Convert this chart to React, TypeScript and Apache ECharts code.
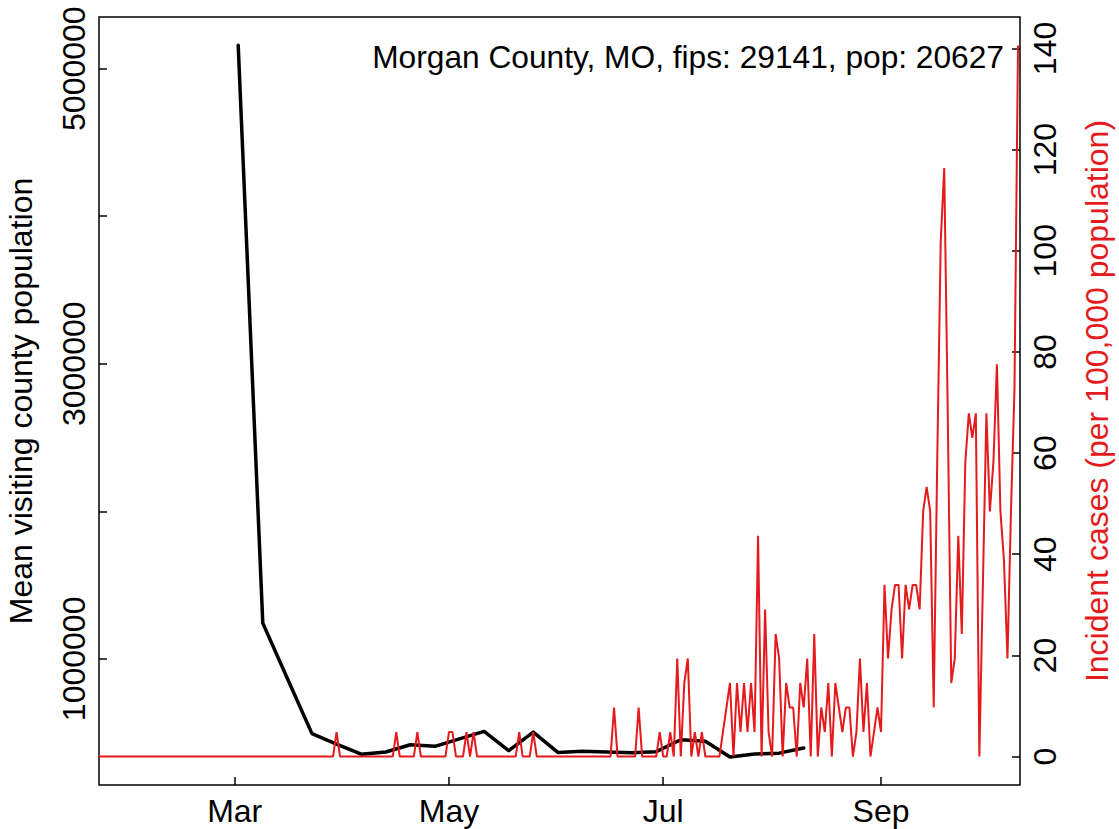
import React, { useEffect, useRef } from "react";
import * as echarts from "echarts";

const TITLE = "Morgan County, MO, fips: 29141, pop: 20627";
const LEFT_NAME = "Mean visiting county population";
const RIGHT_NAME = "Incident cases (per 100,000 population)";

// x axis month ticks
const monthTickDates = ["2020-03-01", "2020-05-01", "2020-07-01", "2020-09-01"];
const monthTickLabels = ["Mar", "May", "Jul", "Sep"];

// left axis ticks
const leftTickValues = [1000000, 2000000, 3000000, 4000000, 5000000];
const leftLabelValues = [1000000, 3000000, 5000000];
// right axis ticks
const rightTickValues = [0, 20, 40, 60, 80, 100, 120, 140];

// weekly mean visiting county population (black line)
const visitDates = [
  "2020-03-02", "2020-03-09", "2020-03-16", "2020-03-23", "2020-03-30",
  "2020-04-06", "2020-04-13", "2020-04-20", "2020-04-27", "2020-05-04",
  "2020-05-11", "2020-05-18", "2020-05-25", "2020-06-01", "2020-06-08",
  "2020-06-15", "2020-06-22", "2020-06-29", "2020-07-06", "2020-07-13",
  "2020-07-20", "2020-07-27", "2020-08-03", "2020-08-10",
];
const visitPopulation = [
  5158000, 1242000, 867000, 493000, 422000,
  354000, 369000, 418000, 407000, 458000,
  508000, 378000, 504000, 366000, 373000,
  368000, 364000, 371000, 452000, 441000,
  335000, 355000, 361000, 396000,
];

// daily incident cases per 100,000 (red line), starting 2020-01-22
const caseStartDate = "2020-01-22";
const casesJan = [0, 0, 0, 0, 0, 0, 0, 0, 0, 0];
const casesFeb = [
  0, 0, 0, 0, 0, 0, 0, 0, 0, 0,
  0, 0, 0, 0, 0, 0, 0, 0, 0, 0,
  0, 0, 0, 0, 0, 0, 0, 0, 0,
];
const casesMar = [
  0, 0, 0, 0, 0, 0, 0, 0, 0, 0,
  0, 0, 0, 0, 0, 0, 0, 0, 0, 0,
  0, 0, 0, 0, 0, 0, 0, 0, 0, 4.85,
  0,
];
const casesApr = [
  0, 0, 0, 0, 0, 0, 0, 0, 0, 0,
  0, 0, 0, 0, 0, 4.85, 0, 0, 0, 0,
  0, 4.85, 0, 0, 0, 0, 0, 0, 0, 0,
];
const casesMay = [
  4.85, 4.85, 0, 0, 0, 4.85, 0, 4.85, 0, 0,
  0, 0, 0, 0, 0, 0, 0, 0, 0, 0,
  4.85, 0, 0, 0, 4.85, 0, 0, 0, 0, 0,
  0,
];
const casesJun = [
  0, 0, 0, 0, 0, 0, 0, 0, 0, 0,
  0, 0, 0, 0, 0, 0, 9.7, 0, 0, 0,
  0, 0, 0, 9.7, 0, 0, 0, 0, 0, 4.85,
];
const casesJul = [
  0, 0, 4.85, 0, 19.39, 0, 14.54, 19.39, 0, 4.85,
  0, 4.85, 0, 0, 0, 0, 0, 4.85, 9.7, 14.54,
  0, 14.54, 4.85, 14.54, 4.85, 14.54, 4.85, 43.63, 0, 29.09,
  4.85,
];
const casesAug = [
  0, 24.24, 19.39, 0, 14.54, 9.7, 9.7, 0, 14.54, 9.7,
  19.39, 0, 24.24, 0, 9.7, 4.85, 14.54, 0, 14.54, 9.7,
  4.85, 9.7, 9.7, 0, 4.85, 19.39, 4.85, 14.54, 0, 4.85,
  9.7,
];
const casesSep = [
  4.85, 33.94, 19.39, 29.09, 33.94, 33.94, 19.39, 33.94, 29.09, 33.94,
  33.94, 29.09, 48.48, 53.33, 48.48, 9.7, 58.18, 101.81, 116.35, 67.87,
  14.54, 19.39, 43.63, 24.24, 58.18, 67.87, 63.02, 67.87, 0, 33.94,
];
const casesOct = [67.87, 48.48, 58.18, 77.57, 48.48, 38.78, 19.39, 48.48, 72.72, 140.6];

const incidentPer100k = [
  ...casesJan, ...casesFeb, ...casesMar, ...casesApr, ...casesMay,
  ...casesJun, ...casesJul, ...casesAug, ...casesSep, ...casesOct,
];

const FONT = "'Liberation Sans', Arial, Helvetica, sans-serif";
const FS = 32;
const TITLE_FS = 31.7;
const RED = "#E41A1C";

function dayOffset(s: string): number {
  const [y, m, d] = s.split("-").map(Number);
  return Math.round((Date.UTC(y, m - 1, d) - Date.UTC(2020, 2, 1)) / 86400000);
}

export default function App() {
  const ref = useRef<HTMLDivElement>(null);

  useEffect(() => {
    if (!ref.current) return;
    const chart = echarts.init(ref.current, undefined, { renderer: "svg" });

    const tickOffsets = monthTickDates.map(dayOffset);
    const start = dayOffset(caseStartDate);

    const tickStyle = { color: "#000", width: 1.5 };
    const labelBase = { color: "#000", fontSize: FS, fontFamily: FONT };

    chart.setOption({
      animation: false,
      backgroundColor: "#fff",
      grid: {
        left: 99,
        right: 99,
        top: 17,
        bottom: 44,
        show: true,
        borderColor: "#000",
        borderWidth: 1.5,
        containLabel: false,
      },
      xAxis: {
        type: "value",
        min: -38.63,
        max: 223.57,
        axisLine: { show: false, onZero: false },
        splitLine: { show: false },
        axisTick: {
          show: true,
          inside: true,
          length: 8,
          lineStyle: tickStyle,
          customValues: tickOffsets,
        },
        axisLabel: {
          ...labelBase,
          margin: 10,
          customValues: tickOffsets,
          formatter: (v: number) => {
            const i = tickOffsets.indexOf(Math.round(v));
            return i >= 0 ? monthTickLabels[i] : "";
          },
        },
      },
      yAxis: [
        {
          type: "value",
          position: "left",
          min: 145000,
          max: 5350000,
          splitLine: { show: false },
          axisLine: { show: false, onZero: false },
          axisTick: {
            show: true,
            inside: true,
            length: 8,
            lineStyle: tickStyle,
            customValues: leftTickValues,
          },
          axisLabel: {
            ...labelBase,
            rotate: 90,
            margin: 9,
            customValues: leftLabelValues,
            formatter: (v: number) => String(v),
          },
        },
        {
          type: "value",
          position: "right",
          min: -5.624,
          max: 146.22,
          splitLine: { show: false },
          axisLine: { show: false, onZero: false },
          axisTick: {
            show: true,
            inside: true,
            length: 8,
            lineStyle: tickStyle,
            customValues: rightTickValues,
          },
          axisLabel: {
            ...labelBase,
            rotate: 90,
            margin: 9,
            customValues: rightTickValues,
            formatter: (v: number) => String(v),
          },
        },
      ],
      series: [
        {
          type: "line",
          yAxisIndex: 0,
          data: visitDates.map((d, i) => [dayOffset(d), visitPopulation[i]]),
          symbol: "none",
          lineStyle: { color: "#000", width: 3.5, join: "round", cap: "round" },
          z: 2,
        },
        {
          type: "line",
          yAxisIndex: 1,
          data: incidentPer100k.map((v, i) => [start + i, v]),
          symbol: "none",
          lineStyle: { color: RED, width: 2 },
          z: 3,
        },
      ],
      graphic: [
        {
          type: "text",
          x: 1004,
          y: 57.4,
          style: {
            text: TITLE,
            align: "right",
            verticalAlign: "middle",
            fontSize: TITLE_FS,
            fontFamily: FONT,
            fill: "#000",
          },
        },
        {
          type: "text",
          x: 21,
          y: 401,
          rotation: Math.PI / 2,
          style: {
            text: LEFT_NAME,
            align: "center",
            verticalAlign: "middle",
            fontSize: FS,
            fontFamily: FONT,
            fill: "#000",
          },
        },
        {
          type: "text",
          x: 1097,
          y: 401,
          rotation: Math.PI / 2,
          style: {
            text: RIGHT_NAME,
            align: "center",
            verticalAlign: "middle",
            fontSize: FS,
            fontFamily: FONT,
            fill: RED,
          },
        },
      ],
    });

    return () => chart.dispose();
  }, []);

  return (
    <div
      ref={ref}
      style={{ position: "fixed", left: 0, top: 0, width: 1119, height: 829, background: "#fff" }}
    />
  );
}
